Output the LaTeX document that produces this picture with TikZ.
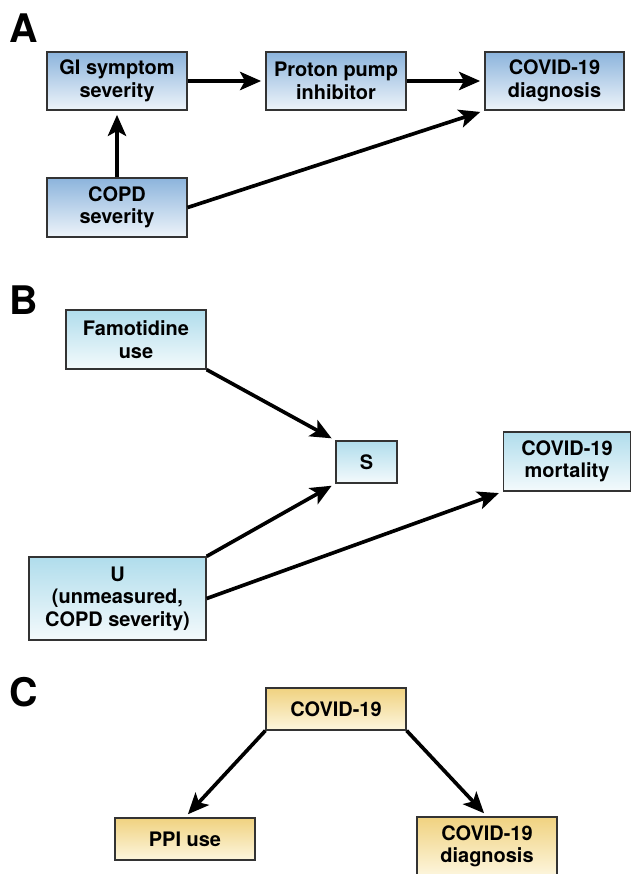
\documentclass[tikz,border=0pt]{standalone}
\usepackage{fontspec}
\setmainfont{TeX Gyre Heros}
\usepackage{tikz}
\usetikzlibrary{arrows.meta}

\definecolor{bluetop}{RGB}{140,180,220}
\definecolor{bluebot}{RGB}{238,244,250}
\definecolor{cyantop}{RGB}{176,221,236}
\definecolor{cyanbot}{RGB}{244,250,252}
\definecolor{yeltop}{RGB}{240,210,128}
\definecolor{yelbot}{RGB}{253,246,222}

\tikzset{
  box/.style={draw=black!80, line width=0.9pt, inner sep=0pt, align=center,
    font=\fontsize{14.2}{16}\selectfont\bfseries},
  boxA/.style={box, top color=bluetop, bottom color=bluebot},
  boxB/.style={box, top color=cyantop, bottom color=cyanbot},
  boxC/.style={box, top color=yeltop, bottom color=yelbot},
  arr/.style={line width=2.6pt, -{Stealth[length=15pt,width=13pt,inset=3.5pt]},
    shorten >=3pt},
  panel/.style={anchor=base west, inner sep=0pt,
    font=\fontsize{28}{28}\selectfont\bfseries}
}

\begin{document}
\begin{tikzpicture}[x=0.025cm, y=-0.025cm]

	\useasboundingbox (0,0) rectangle (631,874);

	% panel A
	\node[panel] (labA) at (9,43) {A};
	\node[boxA, minimum width=3.5cm, minimum height=1.45cm] (gi) at (117,81) {GI symptom\\severity};
	\node[boxA, minimum width=3.5cm, minimum height=1.45cm] (ppi) at (336,81) {Proton pump\\inhibitor};
	\node[boxA, minimum width=3.475cm, minimum height=1.45cm] (diagA) at (554.5,81) {COVID-19\\diagnosis};
	\node[boxA, minimum width=3.5cm, minimum height=1.475cm] (copd) at (117,207.5) {COPD\\severity};

	\draw[arr] (gi) -- (ppi);
	\draw[arr] (ppi) -- (diagA);
	\draw[arr] (copd) -- (gi);
	\draw[arr] (copd.east) -- (diagA.south west);

	% panel B
	\node[panel] (labB) at (9,314) {B};
	\node[boxB, minimum width=3.5cm, minimum height=1.475cm] (famo) at (136,339.5) {Famotidine\\use};
	\node[boxB, minimum width=1.525cm, minimum height=1.05cm] (S) at (366.5,462) {S};
	\node[boxB, minimum width=3.175cm, minimum height=1.475cm] (mort) at (567,461.5) {COVID-19\\mortality};
	\node[boxB, minimum width=4.425cm, minimum height=2.075cm] (U) at (117.5,598.5) {U\\(unmeasured,\\COPD severity)};

	\draw[arr] (famo.south east) -- (S.north west);
	\draw[arr] (U.north east) -- (S.south west);
	\draw[arr] (U.east) -- (mort.south west);

	% panel C
	\node[panel] (labC) at (9,706) {C};
	\node[boxC, minimum width=3.5cm, minimum height=1.05cm] (covid) at (336,709) {COVID-19};
	\node[boxC, minimum width=3.5cm, minimum height=1.05cm] (ppiuse) at (185,839) {PPI use};
	\node[boxC, minimum width=3.5cm, minimum height=1.475cm] (diagC) at (487,846.5) {COVID-19\\diagnosis};

	\draw[arr] (covid.south west) -- (ppiuse.north);
	\draw[arr] (covid.south east) -- (diagC.north);

\end{tikzpicture}
\end{document}
